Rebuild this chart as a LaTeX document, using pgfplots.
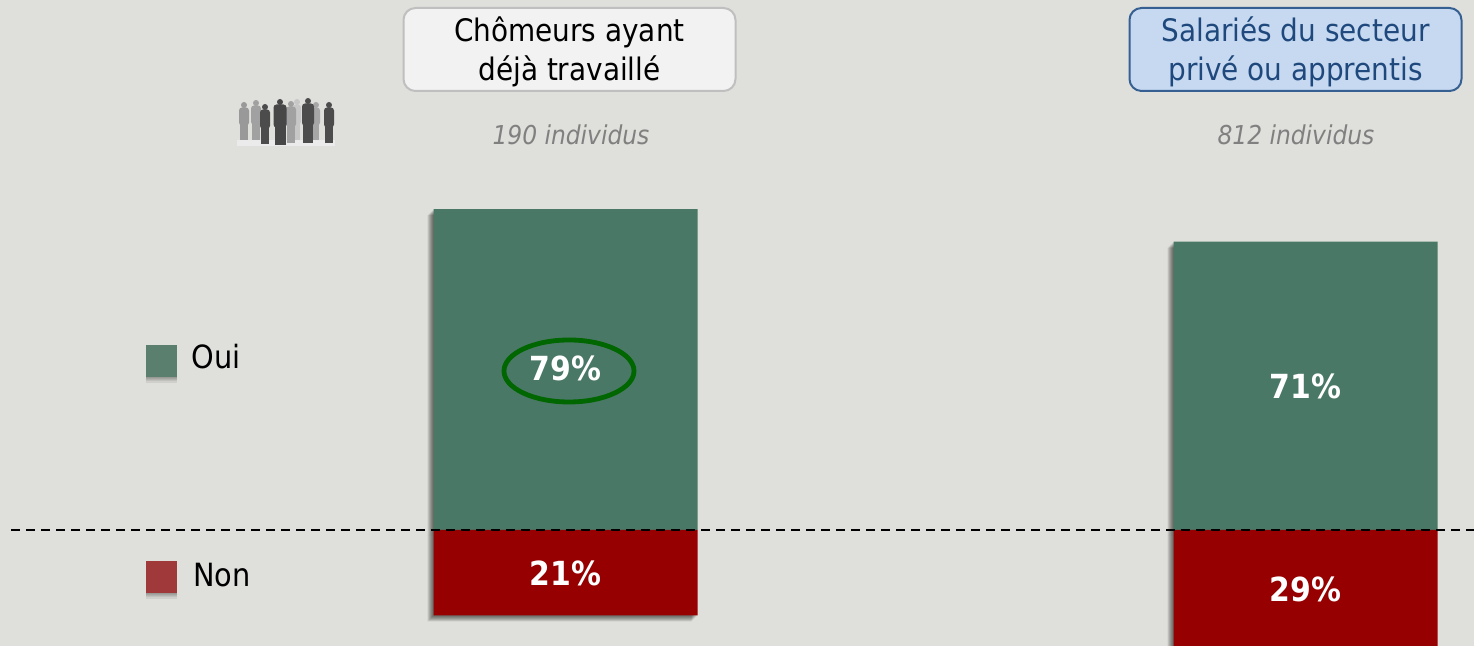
\documentclass[border=0pt]{standalone}
\usepackage{fontspec}
\usepackage{pgfplots}
\usepackage{pgfplotstable}
\pgfplotsset{compat=1.18}
\setmainfont{DejaVu Sans Condensed}
\definecolor{bgcol}{HTML}{DFE0DB}
\definecolor{ouicol}{HTML}{4A7866}
\definecolor{noncol}{HTML}{960000}
\definecolor{ouikey}{HTML}{5A7F6E}
\definecolor{nonkey}{HTML}{A03A3A}
\definecolor{ringcol}{HTML}{006600}
\definecolor{bluebox}{HTML}{C6D9F1}
\definecolor{blueline}{HTML}{376092}
\definecolor{bluetext}{HTML}{1F497D}

\pgfplotstableread{
pos oui non
0   79  -21
1   71  -29
}\shares

% one silhouette of the little crowd: x, top, bottom, half width, colour
\newcommand{\person}[5]{%
  \fill[#5] (#1,#2+3) circle (3);
  \fill[#5,rounded corners=1.5pt] (#1-#4,#2+5.5) rectangle (#1+#4,{#2+0.62*(#3-#2)});
  \fill[#5] (#1-#4+1,{#2+0.55*(#3-#2)}) rectangle (#1-0.4,#3);
  \fill[#5] (#1+0.4,{#2+0.55*(#3-#2)}) rectangle (#1+#4-1,#3);
}

\begin{document}
\begin{tikzpicture}
\fill[bgcol] (0,0) rectangle (737pt,323pt);
\begin{axis}[
    at={(0,0)},
    anchor=south west,
    scale only axis,
    width=737pt,
    height=323pt,
    hide axis,
    xmin=-0.7642,
    xmax=1.2277,
    ymin=-28.57,
    ymax=130.54,
]
% soft shadow of the bars
\pgfplotsinvokeforeach{0.5,1,1.5,2,2.5,3}{
  \addplot[ybar,bar width=132pt,bar shift=0pt,draw=none,fill=black,fill opacity=0.11,xshift=-#1pt,yshift=-#1pt]
    table[x=pos,y=oui] {\shares};
  \addplot[ybar,bar width=132pt,bar shift=0pt,draw=none,fill=black,fill opacity=0.11,xshift=-#1pt,yshift=-#1pt]
    table[x=pos,y=non] {\shares};
}
\addplot[ybar,bar width=132pt,bar shift=0pt,draw=none,fill=ouicol] table[x=pos,y=oui] {\shares};
\addplot[ybar,bar width=132pt,bar shift=0pt,draw=none,fill=noncol] table[x=pos,y=non] {\shares};
\addplot[black,line width=0.8pt,dash pattern=on 4.5pt off 3pt] coordinates {(-0.749,0) (1.2277,0)};
% legend keys
\pgfplotsinvokeforeach{0.6,1.2,1.8,2.4,3}{
  \addplot[only marks,mark=square*,mark size=7.8pt,
      mark options={draw opacity=0,fill=black,fill opacity=0.07,yshift=-#1pt}]
    coordinates {(-0.546,41.6) (-0.546,-11.6)};
}
\addplot[only marks,mark=square*,mark size=7.8pt,mark options={draw opacity=0,fill=ouikey}] coordinates {(-0.546,41.6)};
\addplot[only marks,mark=square*,mark size=7.8pt,mark options={draw opacity=0,fill=nonkey}] coordinates {(-0.546,-11.6)};
% values in the middle of the bars
\addplot[only marks,mark=none,nodes near coords,point meta=explicit symbolic,
    every node near coord/.style={anchor=center,text=white,font=\fontsize{16.6}{19}\selectfont\bfseries}]
  coordinates {(0,39.7) [79\%] (1,35.3) [71\%] (0,-10.8) [21\%] (1,-14.7) [29\%]};
\end{axis}
% annotations, placed in pixels of the picture
\begin{scope}[x=0.5pt,y=-0.5pt,yshift=323pt]
  \draw[ringcol,line width=2.4pt] (569,371) ellipse (65 and 31);
  \node[draw=black!25,line width=1pt,fill=black!5,rounded corners=6pt,minimum width=166pt,minimum height=41.5pt] at (569.5,49.5) {};
  \node[inner sep=0pt,align=center,font=\fontsize{15.5}{19.5}\selectfont] at (569.5,51.5)
    {Chômeurs ayant\\déjà travaillé};
  \node[draw=blueline,line width=1pt,fill=bluebox,rounded corners=6pt,minimum width=166pt,minimum height=41.5pt] at (1295.5,49.5) {};
  \node[inner sep=0pt,align=center,text=bluetext,font=\fontsize{15.5}{19.5}\selectfont] at (1295.5,51.5)
    {Salariés du secteur\\privé ou apprentis};
  \node[text=black!50,font=\fontsize{13}{15}\selectfont\itshape] at (571,135) {190 individus};
  \node[text=black!50,font=\fontsize{13}{15}\selectfont\itshape] at (1296,135) {812 individus};
  \node[anchor=west,inner sep=0pt,font=\fontsize{16}{19}\selectfont] at (191,357) {Oui};
  \node[anchor=west,inner sep=0pt,font=\fontsize{16}{19}\selectfont] at (193,575) {Non};
  % the little crowd
  \fill[black!8] (237,140) rectangle (335,146);
  \person{297}{99}{140}{4}{black!22}
  \person{244}{102}{140}{5}{black!40}
  \person{256}{100}{140}{5}{black!37}
  \person{316}{102}{140}{4}{black!35}
  \person{291}{101}{143}{5}{black!37}
  \person{265}{104}{144}{5}{black!70}
  \person{280}{99}{145}{6.5}{black!72}
  \person{308}{98}{143}{6}{black!70}
  \person{329}{102}{143}{5}{black!70}
\end{scope}
\end{tikzpicture}
\end{document}
